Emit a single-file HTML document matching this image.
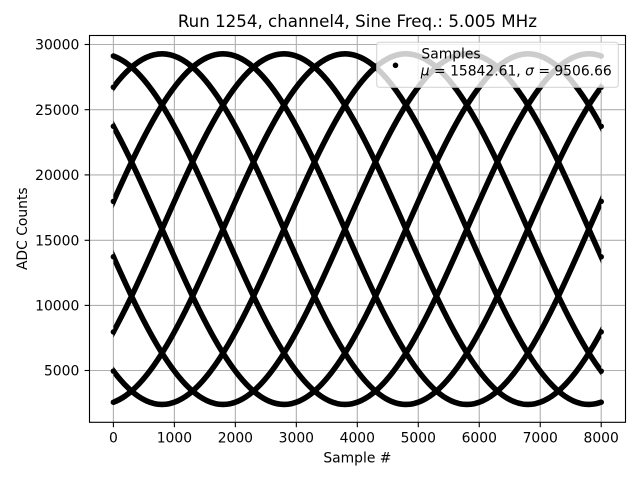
<!DOCTYPE html>
<html>
<head>
<meta charset="utf-8">
<style>
  html, body { margin: 0; padding: 0; background: #ffffff; }
  svg { display: block; }
  text { font-family: "DejaVu Sans", "Liberation Sans", sans-serif; fill: #000; }
</style>
</head>
<body>
<svg width="640" height="480" viewBox="0 0 640 480" xmlns="http://www.w3.org/2000/svg">
  <defs>
    <clipPath id="axclip">
      <rect x="89.5" y="35.5" width="536" height="386.8"/>
    </clipPath>
    <clipPath id="dataclip">
      <rect x="113.4" y="30" width="487.8" height="400"/>
    </clipPath>
    <path id="sine" d="M0,0
      c39.77,-89.81 77.82,-175.32 121.95,-175.32
      c44.13,0 82.18,85.51 121.95,175.32
      c39.77,89.81 77.82,175.32 121.95,175.32
      c44.13,0 82.18,-85.51 121.95,-175.32
      c39.77,-89.81 77.82,-175.32 121.95,-175.32
      c44.13,0 82.18,85.51 121.95,175.32
      c39.77,89.81 77.82,175.32 121.95,175.32
      c44.13,0 82.18,-85.51 121.95,-175.32"
      fill="none" stroke="#000" stroke-width="5.56" stroke-linecap="round" stroke-linejoin="round"/>
  </defs>

  <rect x="0" y="0" width="640" height="480" fill="#ffffff"/>

  <!-- grid -->
  <g stroke="#b0b0b0" stroke-width="1.11" fill="none">
    <line x1="113.4" y1="35.5" x2="113.4" y2="422.3"/>
    <line x1="174.38" y1="35.5" x2="174.38" y2="422.3"/>
    <line x1="235.35" y1="35.5" x2="235.35" y2="422.3"/>
    <line x1="296.33" y1="35.5" x2="296.33" y2="422.3"/>
    <line x1="357.3" y1="35.5" x2="357.3" y2="422.3"/>
    <line x1="418.28" y1="35.5" x2="418.28" y2="422.3"/>
    <line x1="479.25" y1="35.5" x2="479.25" y2="422.3"/>
    <line x1="540.23" y1="35.5" x2="540.23" y2="422.3"/>
    <line x1="601.2" y1="35.5" x2="601.2" y2="422.3"/>
    <line x1="89.5" y1="44.5" x2="625.5" y2="44.5"/>
    <line x1="89.5" y1="109.7" x2="625.5" y2="109.7"/>
    <line x1="89.5" y1="174.9" x2="625.5" y2="174.9"/>
    <line x1="89.5" y1="240.3" x2="625.5" y2="240.3"/>
    <line x1="89.5" y1="305.4" x2="625.5" y2="305.4"/>
    <line x1="89.5" y1="370.5" x2="625.5" y2="370.5"/>
  </g>

  <!-- data curves -->
  <g clip-path="url(#axclip)">
    <g clip-path="url(#dataclip)">
      <use href="#sine" transform="translate(101.07,229.11)"/>
      <use href="#sine" transform="translate(40.10,229.11)"/>
      <use href="#sine" transform="translate(-20.88,229.11)"/>
      <use href="#sine" transform="translate(-81.86,229.11)"/>
      <use href="#sine" transform="translate(-142.83,229.11)"/>
      <use href="#sine" transform="translate(-203.81,229.11)"/>
      <use href="#sine" transform="translate(-264.78,229.11)"/>
      <use href="#sine" transform="translate(-325.76,229.11)"/>
    </g>
    <g fill="#000">
      <circle cx="113.4" cy="201.38" r="2.78"/>
      <circle cx="113.4" cy="87.11" r="2.78"/>
      <circle cx="113.4" cy="56.0" r="2.78"/>
      <circle cx="113.4" cy="126.30" r="2.78"/>
      <circle cx="113.4" cy="256.84" r="2.78"/>
      <circle cx="113.4" cy="371.11" r="2.78"/>
      <circle cx="113.4" cy="402.22" r="2.78"/>
      <circle cx="113.4" cy="331.92" r="2.78"/>
      <circle cx="601.2" cy="201.38" r="2.78"/>
      <circle cx="601.2" cy="87.11" r="2.78"/>
      <circle cx="601.2" cy="56.0" r="2.78"/>
      <circle cx="601.2" cy="126.30" r="2.78"/>
      <circle cx="601.2" cy="256.84" r="2.78"/>
      <circle cx="601.2" cy="371.11" r="2.78"/>
      <circle cx="601.2" cy="402.22" r="2.78"/>
      <circle cx="601.2" cy="331.92" r="2.78"/>
    </g>
  </g>

  <!-- axes frame -->
  <rect x="89.5" y="35.5" width="536" height="386.8" fill="none" stroke="#000" stroke-width="1.11"/>

  <!-- x ticks -->
  <g stroke="#000" stroke-width="1.11">
    <line x1="113.4" y1="422.3" x2="113.4" y2="427.2"/>
    <line x1="174.38" y1="422.3" x2="174.38" y2="427.2"/>
    <line x1="235.35" y1="422.3" x2="235.35" y2="427.2"/>
    <line x1="296.33" y1="422.3" x2="296.33" y2="427.2"/>
    <line x1="357.3" y1="422.3" x2="357.3" y2="427.2"/>
    <line x1="418.28" y1="422.3" x2="418.28" y2="427.2"/>
    <line x1="479.25" y1="422.3" x2="479.25" y2="427.2"/>
    <line x1="540.23" y1="422.3" x2="540.23" y2="427.2"/>
    <line x1="601.2" y1="422.3" x2="601.2" y2="427.2"/>
  </g>
  <g font-size="13.89" text-anchor="middle">
    <text x="113.4" y="442.4">0</text>
    <text x="174.38" y="442.4">1000</text>
    <text x="235.35" y="442.4">2000</text>
    <text x="296.33" y="442.4">3000</text>
    <text x="357.3" y="442.4">4000</text>
    <text x="418.28" y="442.4">5000</text>
    <text x="479.25" y="442.4">6000</text>
    <text x="540.23" y="442.4">7000</text>
    <text x="601.2" y="442.4">8000</text>
  </g>

  <!-- y ticks -->
  <g stroke="#000" stroke-width="1.11">
    <line x1="84.6" y1="44.5" x2="89.5" y2="44.5"/>
    <line x1="84.6" y1="109.7" x2="89.5" y2="109.7"/>
    <line x1="84.6" y1="174.9" x2="89.5" y2="174.9"/>
    <line x1="84.6" y1="240.3" x2="89.5" y2="240.3"/>
    <line x1="84.6" y1="305.4" x2="89.5" y2="305.4"/>
    <line x1="84.6" y1="370.5" x2="89.5" y2="370.5"/>
  </g>
  <g font-size="13.89" text-anchor="end">
    <text x="79.3" y="49.6">30000</text>
    <text x="79.3" y="114.8">25000</text>
    <text x="79.3" y="180.0">20000</text>
    <text x="79.3" y="245.4">15000</text>
    <text x="79.3" y="310.5">10000</text>
    <text x="79.3" y="375.6">5000</text>
  </g>

  <!-- axis labels -->
  <text x="357.4" y="462.3" font-size="13.89" text-anchor="middle">Sample #</text>
  <text x="0" y="0" font-size="13.89" text-anchor="middle" transform="translate(27,228.7) rotate(-90)">ADC Counts</text>

  <!-- title -->
  <text x="357.4" y="26.8" font-size="16.67" text-anchor="middle">Run 1254, channel4, Sine Freq.: 5.005 MHz</text>

  <!-- legend -->
  <rect x="376.7" y="42.3" width="241.6" height="45" rx="2.8" ry="2.8" fill="#ffffff" fill-opacity="0.8" stroke="#cccccc" stroke-opacity="0.8" stroke-width="1.11"/>
  <circle cx="395.5" cy="65.3" r="2.78" fill="#000"/>
  <text x="421.4" y="58.7" font-size="13.89">Samples</text>
  <text x="420.8" y="75.3" font-size="13.89"><tspan font-style="italic">μ</tspan> = 15842.61, <tspan font-style="italic">σ</tspan> = 9506.66</text>
</svg>
</body>
</html>
